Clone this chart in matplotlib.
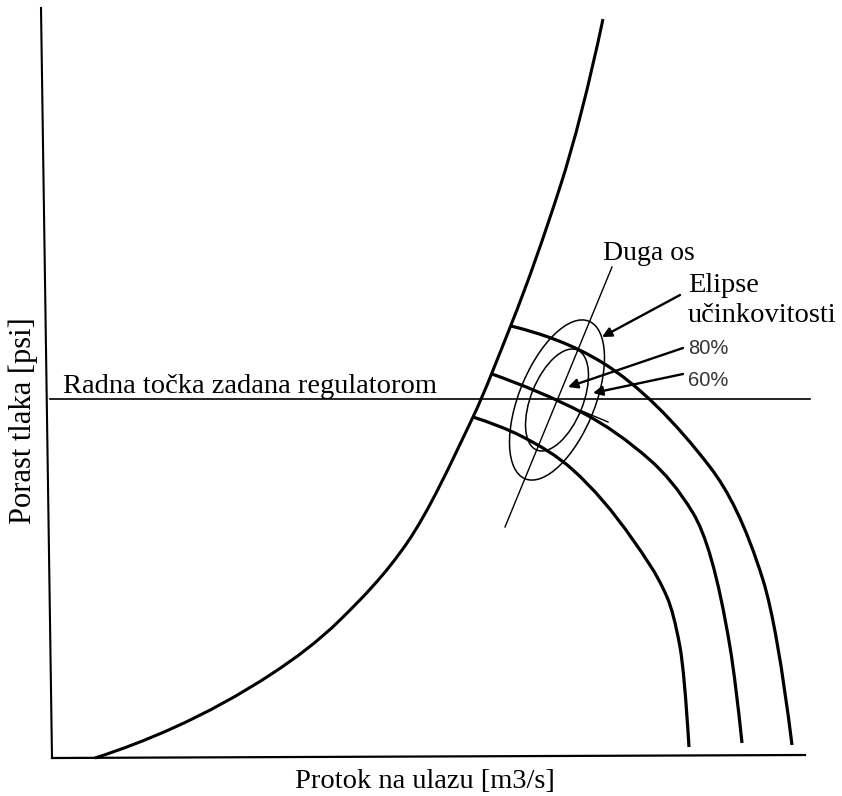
import matplotlib
matplotlib.use("Agg")
import matplotlib.pyplot as plt
from matplotlib.patches import Ellipse, PathPatch
from matplotlib.path import Path

os_y_x = [41, 52]
os_y_y = [8, 758]
os_x_x = [52, 805]
os_x_y = [758, 755]

# granica pumpanja (surge line): tocke i ocitani nagib u svakoj tocki
pumpanje_x = [95, 173, 273, 340, 407, 473, 511, 560, 603]
pumpanje_y = [758, 728, 673, 620, 543, 417, 325, 187, 19]
pumpanje_nagib = [-0.32, -0.45, -0.66, -0.98, -1.45, -2.1, -2.5, -3.1, -4.7]

# tri krivulje brzine
brzina1_x = [511, 603, 710, 763, 792]
brzina1_y = [326, 363, 467, 580, 745]
brzina1_nagib = [0.25, 0.62, 1.3, 3.2, 8.0]
brzina2_x = [492, 583, 650, 693, 730, 742]
brzina2_y = [374, 413, 460, 513, 647, 743]
brzina2_nagib = [0.36, 0.52, 0.88, 1.65, 6.0, 9.5]
brzina3_x = [473, 523, 573, 633, 667, 680, 689]
brzina3_y = [417, 437, 470, 540, 597, 647, 747]
brzina3_nagib = [0.33, 0.52, 0.9, 1.45, 2.3, 5.5, 16.0]

radna_x = [50, 810]
radna_y = [399, 399]

duga_os_x = [505, 612]
duga_os_y = [527, 267]
crtica_x = [582, 608]
crtica_y = [411, 422]

elipsa_centar = (557, 400)
elipsa_vanjska = (170, 76)
elipsa_unutarnja = (108, 52)
elipsa_kut = -68


def glatka(xs, ys, nagib):
    # hermite krivulja kroz tocke s zadanim nagibom, crta se kao bezier
    verts = [(xs[0], ys[0])]
    codes = [Path.MOVETO]
    for i in range(len(xs) - 1):
        d = (xs[i + 1] - xs[i]) / 3
        verts += [(xs[i] + d, ys[i] + d * nagib[i]),
                  (xs[i + 1] - d, ys[i + 1] - d * nagib[i + 1]),
                  (xs[i + 1], ys[i + 1])]
        codes += [Path.CURVE4] * 3
    return Path(verts, codes)


fig = plt.figure(figsize=(8.42, 7.96), dpi=100)
ax = fig.add_axes([0, 0, 1, 1])
ax.set_xlim(0, 842)
ax.set_ylim(796, 0)
ax.axis("off")

ax.plot(os_y_x, os_y_y, color="black", lw=1.5)
ax.plot(os_x_x, os_x_y, color="black", lw=1.6)
ax.add_patch(PathPatch(glatka(pumpanje_x, pumpanje_y, pumpanje_nagib), fill=False, ec="black", lw=2.2))
for bx, by, bn in [(brzina1_x, brzina1_y, brzina1_nagib),
                   (brzina2_x, brzina2_y, brzina2_nagib),
                   (brzina3_x, brzina3_y, brzina3_nagib)]:
    ax.add_patch(PathPatch(glatka(bx, by, bn), fill=False, ec="black", lw=2.3))
ax.plot(radna_x, radna_y, color="black", lw=1.2)
ax.plot(duga_os_x, duga_os_y, color="black", lw=1.0)
ax.plot(crtica_x, crtica_y, color="black", lw=1.0)

for w, h in [elipsa_vanjska, elipsa_unutarnja]:
    ax.add_patch(Ellipse(elipsa_centar, w, h, angle=elipsa_kut, fill=False, ec="black", lw=1.1))

strelica = dict(arrowstyle="-|>", mutation_scale=14, lw=1.7, color="black", shrinkA=0, shrinkB=0)
ax.annotate("", xy=(602, 337), xytext=(680, 295), arrowprops=strelica)
ax.annotate("", xy=(568, 387), xytext=(683, 348), arrowprops=strelica)
ax.annotate("", xy=(593, 393), xytext=(683, 374), arrowprops=strelica)

serif = "Liberation Serif"
ax.text(63, 393, "Radna točka zadana regulatorom", family=serif, fontsize=20.5, va="baseline")
ax.text(603, 260, "Duga os", family=serif, fontsize=20, va="baseline")
ax.text(688, 292, "Elipse", family=serif, fontsize=20.5, va="baseline")
ax.text(688, 322, "učinkovitosti", family=serif, fontsize=20.5, va="baseline")
ax.text(688, 354, "80%", family="Liberation Sans", fontsize=14.5, color="#333333", va="baseline")
ax.text(688, 386, "60%", family="Liberation Sans", fontsize=14.5, color="#333333", va="baseline")
ax.text(425, 781, "Protok na ulazu [m3/s]", family=serif, fontsize=20.5, ha="center", va="center")
ax.text(23, 421, "Porast tlaka [psi]", family=serif, fontsize=22, ha="center", va="center", rotation=90)

fig.savefig("out.png", dpi=100)
